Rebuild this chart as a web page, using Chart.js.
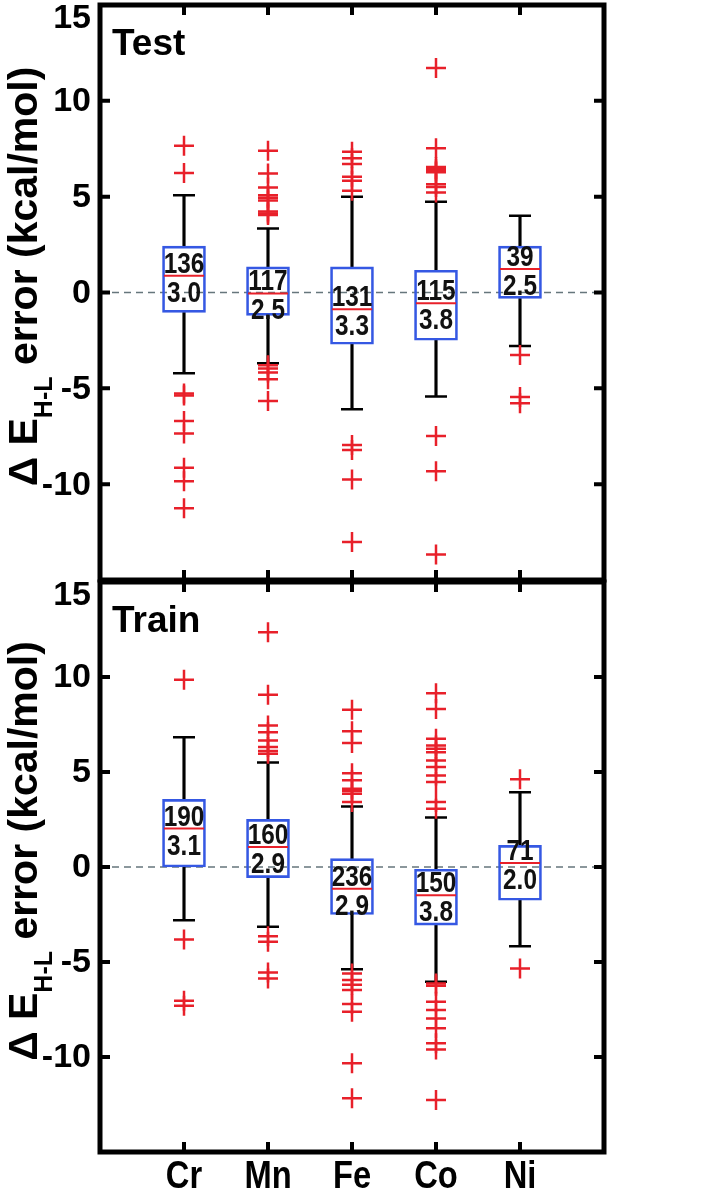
<!DOCTYPE html>
<html>
<head>
<meta charset="utf-8">
<script src="https://cdn.jsdelivr.net/npm/chart.js@4.4.0/dist/chart.umd.min.js"></script>
<style>
  html, body { margin: 0; padding: 0; background: #fff; overflow: hidden; width: 708px; height: 1194px; }
  canvas { position: absolute; left: 0; }
  #testChart { top: 0; }
  #trainChart { top: 578px; }
</style>
</head>
<body>
<canvas id="testChart" width="708" height="586"></canvas>
<canvas id="trainChart" width="708" height="616"></canvas>
<script>
const categories = ["Cr", "Mn", "Fe", "Co", "Ni"];
const yTicks = [15, 10, 5, 0, -5, -10];

// Test set
const testLow = [-4.21, -3.69, -6.09, -5.43, -2.79];
const testQ1 = [-1.04, -1.19, -2.70, -2.49, -0.31];
const testMedian = [0.87, -0.05, -0.87, -0.56, 1.22];
const testQ3 = [2.42, 1.34, 1.34, 1.16, 2.42];
const testHigh = [5.08, 3.34, 4.99, 4.73, 4.0];
const testCount = [136, 117, 131, 115, 39];
const testMAE = ["3.0", "2.5", "3.3", "3.8", "2.5"];
const testOutliers = [
  [7.66, 6.23, -5.27, -5.38, -6.70, -7.35, -9.14, -9.85, -11.25],
  [7.39, 6.21, 5.48, 5.08, 4.95, 4.80, 4.22, 4.12, 4.05, -3.80, -3.97, -4.18, -4.53, -5.66],
  [7.34, 7.0, 6.70, 6.04, 5.83, 5.31, -7.96, -8.22, -9.75, -13.02],
  [11.71, 7.53, 6.55, 6.45, 6.35, 6.27, 5.65, 5.51, 5.22, -7.49, -9.32, -13.67],
  [-3.26, -5.45, -5.78],
];

// Train set
const trainLow = [-2.80, -3.15, -5.38, -6.04, -4.17];
const trainQ1 = [0.0, -0.56, -2.50, -3.06, -1.75];
const trainMedian = [2.02, 1.05, -1.14, -1.49, 0.21];
const trainQ3 = [3.56, 2.51, 0.44, -0.12, 1.14];
const trainHigh = [6.83, 5.50, 3.19, 2.61, 3.94];
const trainCount = [190, 160, 236, 150, 71];
const trainMAE = ["3.1", "2.9", "2.9", "3.8", "2.0"];
const trainOutliers = [
  [9.85, -3.82, -7.04, -7.30],
  [12.35, 9.06, 7.45, 7.09, 6.66, 6.31, 6.10, 5.96, -3.64, -3.94, -5.55, -5.87],
  [8.27, 7.15, 6.52, 4.94, 4.56, 4.12, 4.0, 3.86, 3.42, -5.60, -5.95, -6.20, -6.48, -7.21, -7.62, -10.33, -12.17],
  [9.14, 8.32, 6.75, 6.39, 6.22, 6.04, 5.61, 5.26, 4.82, 4.47, 3.42, 3.07, -6.13, -6.25, -7.09, -7.53, -7.97, -8.49, -9.28, -9.60, -12.26],
  [4.62, -5.34],
];

const FONT = '"Liberation Sans", Arial, sans-serif';
const RED = "#e8202a";
const BLUE = "#3558e3";

// condensed-looking text: squeeze horizontally
function narrowText(ctx, text, x, y, sx) {
  ctx.save();
  ctx.translate(x, y);
  ctx.scale(sx, 1);
  ctx.fillText(text, 0, 0);
  ctx.restore();
}

// numbers in boxes, frame, tick labels, panel name and y title
const decor = {
  id: "decor",
  afterDatasetsDraw(chart, args, opts) {
    const { ctx, chartArea: a } = chart;
    const x = chart.scales.x, y = chart.scales.y;
    ctx.save();

    ctx.fillStyle = "#111";
    ctx.textAlign = "center";
    ctx.textBaseline = "alphabetic";
    ctx.font = "bold 29px " + FONT;
    opts.median.forEach((m, i) => {
      const px = x.getPixelForValue(i + 1);
      const py = y.getPixelForValue(m);
      narrowText(ctx, String(opts.count[i]), px, py - 3, 0.84);
      narrowText(ctx, opts.mae[i], px, py + 26, 0.84);
    });

    ctx.strokeStyle = "#000";
    ctx.lineWidth = 5;
    ctx.strokeRect(a.left, a.top, a.right - a.left, a.bottom - a.top);
    ctx.lineWidth = 4;
    ctx.beginPath();
    categories.forEach((c, i) => {
      const px = x.getPixelForValue(i + 1);
      ctx.moveTo(px, a.top); ctx.lineTo(px, a.top + 10);
      ctx.moveTo(px, a.bottom); ctx.lineTo(px, a.bottom - 10);
    });
    yTicks.forEach(v => {
      const py = y.getPixelForValue(v);
      ctx.moveTo(a.left, py); ctx.lineTo(a.left + 10, py);
      ctx.moveTo(a.right, py); ctx.lineTo(a.right - 10, py);
    });
    ctx.stroke();

    ctx.fillStyle = "#000";
    ctx.font = "bold 34px " + FONT;
    ctx.textAlign = "right";
    yTicks.forEach((v, i) => {
      const py = y.getPixelForValue(v);
      ctx.textBaseline = i === 0 ? "top" : "middle";
      ctx.fillText(String(v), a.left - 9, i === 0 ? py - 3 : py + 1);
    });

    if (opts.showX) {
      ctx.textAlign = "center";
      ctx.textBaseline = "alphabetic";
      ctx.font = "bold 38px " + FONT;
      categories.forEach((c, i) => {
        narrowText(ctx, c, x.getPixelForValue(i + 1), a.bottom + 36, 0.86);
      });
    }

    ctx.textAlign = "left";
    ctx.textBaseline = "alphabetic";
    ctx.font = "bold 37px " + FONT;
    ctx.fillText(opts.name, a.left + 12, a.top + 50);

    // rotated axis title with subscript
    const big = "bold 41px " + FONT, small = "bold 25px " + FONT;
    const parts = [["\u0394 E", big, 0], ["H-L", small, 15], [" error (kcal/mol)", big, 0]];
    ctx.translate(37, (a.top + a.bottom) / 2 - 16);
    ctx.rotate(-Math.PI / 2);
    let total = 0;
    parts.forEach(p => { ctx.font = p[1]; total += ctx.measureText(p[0]).width; });
    let tx = -total / 2;
    parts.forEach(p => {
      ctx.font = p[1];
      ctx.fillText(p[0], tx, p[2]);
      tx += ctx.measureText(p[0]).width;
    });
    ctx.restore();
  },
};

function buildChart(id, s, showX, padTop, padBottom) {
  const caps = [], meds = [], outs = [];
  categories.forEach((c, i) => {
    caps.push({ x: c, y: s.high[i] }, { x: c, y: s.low[i] });
    meds.push({ x: c, y: s.median[i] });
    s.outliers[i].forEach(v => outs.push({ x: c, y: v }));
  });
  const pad = arr => [null, ...arr, null];

  return new Chart(document.getElementById(id), {
    type: "bar",
    data: {
      labels: ["", ...categories, ""],
      datasets: [
        {
          type: "line",
          data: [0, 0, 0, 0, 0, 0, 0],
          borderColor: "#66767c",
          borderWidth: 1.5,
          borderDash: [7, 5],
          pointRadius: 0,
          order: 10,
        },
        {
          data: pad(s.q3.map((q, i) => [q, s.high[i]])),
          backgroundColor: "#000",
          barThickness: 2.5,
          grouped: false,
          order: 7,
        },
        {
          data: pad(s.q1.map((q, i) => [s.low[i], q])),
          backgroundColor: "#000",
          barThickness: 2.5,
          grouped: false,
          order: 7,
        },
        {
          data: pad(s.q1.map((q, i) => [q, s.q3[i]])),
          backgroundColor: "rgba(0,0,0,0)",
          borderColor: BLUE,
          borderWidth: 2,
          borderSkipped: false,
          barThickness: 43,
          grouped: false,
          order: 5,
        },
        {
          type: "scatter",
          data: caps,
          pointStyle: "line",
          pointRadius: 11,
          borderColor: "#000",
          borderWidth: 2.5,
          order: 4,
        },
        {
          type: "scatter",
          data: meds,
          pointStyle: "line",
          pointRadius: 20,
          borderColor: RED,
          borderWidth: 2,
          order: 3,
        },
        {
          type: "scatter",
          data: outs,
          pointStyle: "cross",
          pointRadius: 10,
          borderColor: RED,
          borderWidth: 2.5,
          order: 1,
        },
      ],
    },
    options: {
      responsive: false,
      animation: false,
      events: [],
      layout: { autoPadding: false, padding: { top: padTop, bottom: padBottom, left: 0, right: 104 } },
      plugins: {
        legend: { display: false },
        tooltip: { enabled: false },
        decor: Object.assign({ showX: showX }, s.decor),
      },
      scales: {
        x: {
          type: "category",
          offset: false,
          display: showX,
          grid: { display: false, drawTicks: false },
          border: { display: false },
          ticks: { display: false },
          afterFit: scale => { scale.height = showX ? 42 : 0; },
        },
        y: {
          min: -15,
          max: 15,
          grid: { display: false },
          border: { display: false },
          ticks: { display: false, stepSize: 5 },
          afterFit: scale => { scale.width = 100; },
        },
      },
    },
    plugins: [decor],
  });
}

buildChart("testChart", {
  low: testLow, q1: testQ1, median: testMedian, q3: testQ3, high: testHigh,
  outliers: testOutliers,
  decor: { name: "Test", median: testMedian, count: testCount, mae: testMAE },
}, false, 5, 6);

buildChart("trainChart", {
  low: trainLow, q1: trainQ1, median: trainMedian, q3: trainQ3, high: trainHigh,
  outliers: trainOutliers,
  decor: { name: "Train", median: trainMedian, count: trainCount, mae: trainMAE },
}, true, 4, 0);
</script>
</body>
</html>
